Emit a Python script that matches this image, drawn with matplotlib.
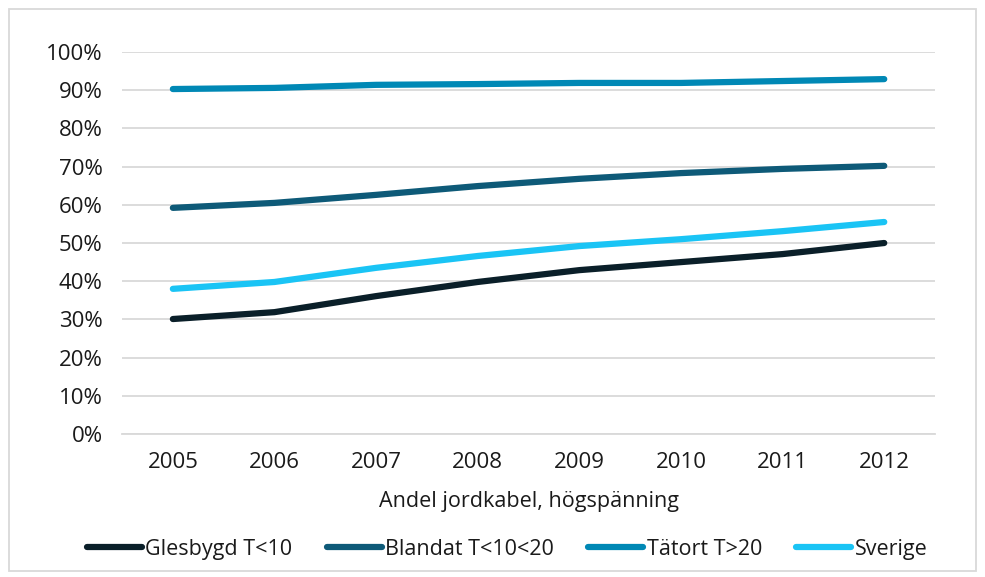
import numpy as np
import matplotlib.pyplot as plt
from matplotlib.patches import Rectangle
from matplotlib.ticker import PercentFormatter

years = ["2005", "2006", "2007", "2008", "2009", "2010", "2011", "2012"]

glesbygd = [0.301, 0.319, 0.361, 0.398, 0.429, 0.450, 0.471, 0.500]
blandat = [0.592, 0.605, 0.626, 0.649, 0.668, 0.683, 0.694, 0.702]
tatort = [0.903, 0.906, 0.914, 0.916, 0.919, 0.919, 0.924, 0.929]
sverige = [0.380, 0.398, 0.435, 0.466, 0.492, 0.510, 0.531, 0.555]

series = [
    ("Glesbygd T<10", glesbygd, "#0a1f29"),
    ("Blandat T<10<20", blandat, "#0e5a78"),
    ("Tätort T>20", tatort, "#0088b5"),
    ("Sverige", sverige, "#1ac4f5"),
]

plt.rcParams['font.family'] = ['Open Sans', 'DejaVu Sans']

fig = plt.figure(figsize=(9.85, 5.77), dpi=100)
ax = fig.add_axes([0.1239, 0.2478, 0.8254, 0.6621])

x = np.arange(len(years))
for name, vals, col in series:
    ax.plot(x, vals, color=col, lw=4.5, solid_capstyle='round', label=name)

ax.set_xlim(-0.5, len(years) - 0.5)
ax.set_ylim(0, 1)
ax.set_yticks(np.arange(0, 1.01, 0.1))
ax.yaxis.set_major_formatter(PercentFormatter(1.0, decimals=0))
ax.set_xticks(x)
ax.set_xticklabels(years)
ax.grid(axis='y', color='#d9d9d9', lw=1.3)
ax.set_axisbelow(True)
for s in ax.spines.values():
    s.set_visible(False)
ax.spines['bottom'].set_visible(True)
ax.spines['bottom'].set_color('#d9d9d9')
ax.spines['bottom'].set_linewidth(1.3)
ax.tick_params(length=0, labelsize=16, colors='#1a1a1a')
ax.tick_params(axis='y', pad=14)
ax.tick_params(axis='x', pad=13)
ax.set_xlabel("Andel jordkabel, högspänning", fontsize=15.5, color='#1a1a1a', labelpad=13)

leg = fig.legend(loc='center', bbox_to_anchor=(0.515, 0.048), ncol=4, frameon=False,
                 fontsize=15.5, handlelength=2.55, handletextpad=0.15, columnspacing=1.6)
for t in leg.get_texts():
    t.set_color('#1a1a1a')

# outer chart frame
fig.patches.append(Rectangle((9 / 985, 1 - 571 / 577), 967 / 985, 562 / 577,
                             transform=fig.transFigure, fill=False,
                             edgecolor='#d9d9d9', lw=1.3))

fig.savefig("out.png", dpi=100)
